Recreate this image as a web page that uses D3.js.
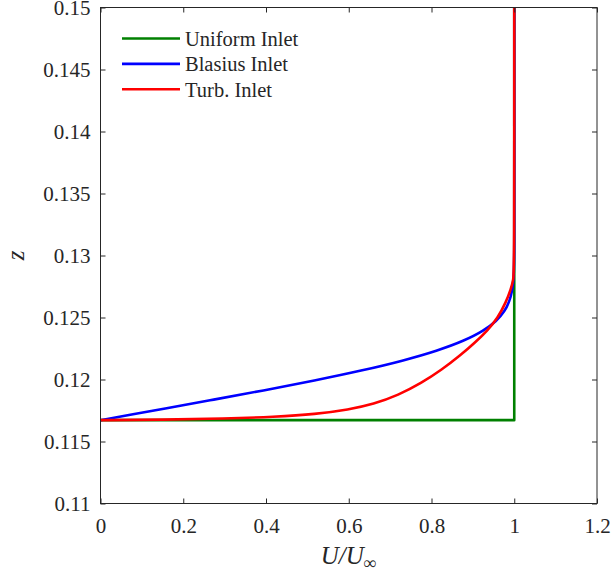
<!DOCTYPE html>
<html>
<head>
<meta charset="utf-8">
<script src="https://cdn.jsdelivr.net/npm/d3@7"></script>
<style>
  html, body { margin: 0; padding: 0; background: #fff; }
  svg text { font-family: "Liberation Serif", "Times New Roman", serif; fill: #262626; }
</style>
</head>
<body>
<svg id="chart" width="613" height="577"></svg>
<script>
// Velocity profiles at the inlet: U/U∞ against height z
const xTicks = [0, 0.2, 0.4, 0.6, 0.8, 1, 1.2];
const xTickLabels = ["0", "0.2", "0.4", "0.6", "0.8", "1", "1.2"];
const yTicks = [0.11, 0.115, 0.12, 0.125, 0.13, 0.135, 0.14, 0.145, 0.15];
const yTickLabels = ["0.11", "0.115", "0.12", "0.125", "0.13", "0.135", "0.14", "0.145", "0.15"];

const seriesNames = ["Uniform Inlet", "Blasius Inlet", "Turb. Inlet"];

// Uniform inlet
const uniformU = [0, 1, 1];
const uniformZ = [0.11672, 0.11672, 0.15];

// Blasius inlet
const blasiusU = [0, 0.1328, 0.2647, 0.3938, 0.5168, 0.6298, 0.7290, 0.8115, 0.8761,
                  0.9233, 0.9555, 0.9759, 0.9878, 0.9943, 0.9975, 0.9990, 0.9996, 0.9999, 1.0, 1.0];
const blasiusZ = [0.11672, 0.11752, 0.11832, 0.11912, 0.11992, 0.12072, 0.12152, 0.12232, 0.12312,
                  0.12392, 0.12472, 0.12552, 0.12632, 0.12712, 0.12792, 0.12872, 0.12952, 0.13032, 0.13112, 0.15];

// Turbulent inlet
const turbU = [0, 0, 0.15, 0.3, 0.42, 0.52, 0.6, 0.66, 0.72, 0.775, 0.825, 0.87,
               0.905, 0.935, 0.96, 0.98, 0.992, 0.998, 1.0, 1.0, 1.0];
const turbZ = [0.11672, 0.11672, 0.11676, 0.11684, 0.11699, 0.11720, 0.11757, 0.11801, 0.11874, 0.11970,
               0.12079, 0.12196, 0.12297, 0.12394, 0.12495, 0.12624, 0.12728, 0.12809, 0.12882, 0.15, 0.15];

const colors = ["#008000", "#0000ff", "#ff0000"];

const svg = d3.select("#chart");
const margin = { left: 100.5, top: 7.5, right: 16, bottom: 73.5 };
const W = 613 - margin.left - margin.right;
const H = 577 - margin.top - margin.bottom;

const x = d3.scaleLinear().domain([0, 1.2]).range([0, W]);
const y = d3.scaleLinear().domain([0.11, 0.15]).range([H, 0]);

const g = svg.append("g").attr("transform", `translate(${margin.left},${margin.top})`);

const clip = svg.append("defs").append("clipPath").attr("id", "plotclip");
clip.append("rect").attr("x", -2).attr("y", -2).attr("width", W + 4).attr("height", H + 4);

// Profiles
const straight = d3.line().x(d => x(d[0])).y(d => y(d[1]));
const catmull = d3.line()
  .x(d => x(d[0]))
  .y(d => y(d[1]))
  .curve(d3.curveCatmullRom.alpha(0.5));
const bspline = d3.line()
  .x(d => x(d[0]))
  .y(d => y(d[1]))
  .curve(d3.curveBasis);
const lineGens = [straight, catmull, bspline];

const series = [
  uniformU.map((u, i) => [u, uniformZ[i]]),
  blasiusU.map((u, i) => [u, blasiusZ[i]]),
  turbU.map((u, i) => [u, turbZ[i]])
];

const plot = g.append("g").attr("clip-path", "url(#plotclip)");
series.forEach((pts, i) => {
  plot.append("path")
    .datum(pts)
    .attr("d", lineGens[i](pts))
    .attr("fill", "none")
    .attr("stroke", colors[i])
    .attr("stroke-width", 2.6)
    .attr("stroke-linejoin", "round");
});

// Axes with inward ticks on all four sides
const fmtX = v => xTickLabels[xTicks.indexOf(v)];
const fmtY = v => yTickLabels[yTicks.indexOf(v)];

const axisStyle = sel => {
  sel.select(".domain").remove();
  sel.selectAll(".tick line").attr("stroke", "#262626").attr("stroke-width", 1);
  sel.selectAll(".tick text").attr("font-size", 21).attr("fill", "#262626")
     .attr("font-family", "'Liberation Serif', 'Times New Roman', serif");
};

g.append("g").attr("transform", `translate(0,${H})`)
  .call(d3.axisBottom(x).tickValues(xTicks).tickFormat(fmtX).tickSizeInner(-5).tickSizeOuter(0).tickPadding(15))
  .call(axisStyle);
g.append("g")
  .call(d3.axisTop(x).tickValues(xTicks).tickFormat("").tickSizeInner(-5).tickSizeOuter(0))
  .call(axisStyle);
g.append("g")
  .call(d3.axisLeft(y).tickValues(yTicks).tickFormat(fmtY).tickSizeInner(-5).tickSizeOuter(0).tickPadding(10))
  .call(axisStyle);
g.append("g").attr("transform", `translate(${W},0)`)
  .call(d3.axisRight(y).tickValues(yTicks).tickFormat("").tickSizeInner(-5).tickSizeOuter(0))
  .call(axisStyle);

g.append("rect")
  .attr("x", 0).attr("y", 0).attr("width", W).attr("height", H)
  .attr("fill", "none").attr("stroke", "#262626").attr("stroke-width", 1);

// Axis titles
const xl = svg.append("text")
  .attr("x", margin.left + W / 2)
  .attr("y", 563.5)
  .attr("text-anchor", "middle")
  .attr("font-size", 25)
  .attr("font-style", "italic");
xl.append("tspan").text("U/U");
xl.append("tspan").attr("font-size", 18).attr("dy", 5).text("∞");

svg.append("text")
  .attr("transform", `translate(24,${margin.top + H / 2}) rotate(-90)`)
  .attr("text-anchor", "middle")
  .attr("font-size", 25)
  .attr("font-style", "italic")
  .text("z");

// Legend
const legend = svg.append("g").attr("transform", "translate(122,38.5)");
seriesNames.forEach((name, i) => {
  const row = legend.append("g").attr("transform", `translate(0,${i * 25.4})`);
  row.append("line")
    .attr("x1", 0).attr("x2", 58).attr("y1", 0).attr("y2", 0)
    .attr("stroke", colors[i]).attr("stroke-width", 2.6);
  row.append("text")
    .attr("x", 63).attr("y", 7.5)
    .attr("font-size", 20.5)
    .text(name);
});
</script>
</body>
</html>
